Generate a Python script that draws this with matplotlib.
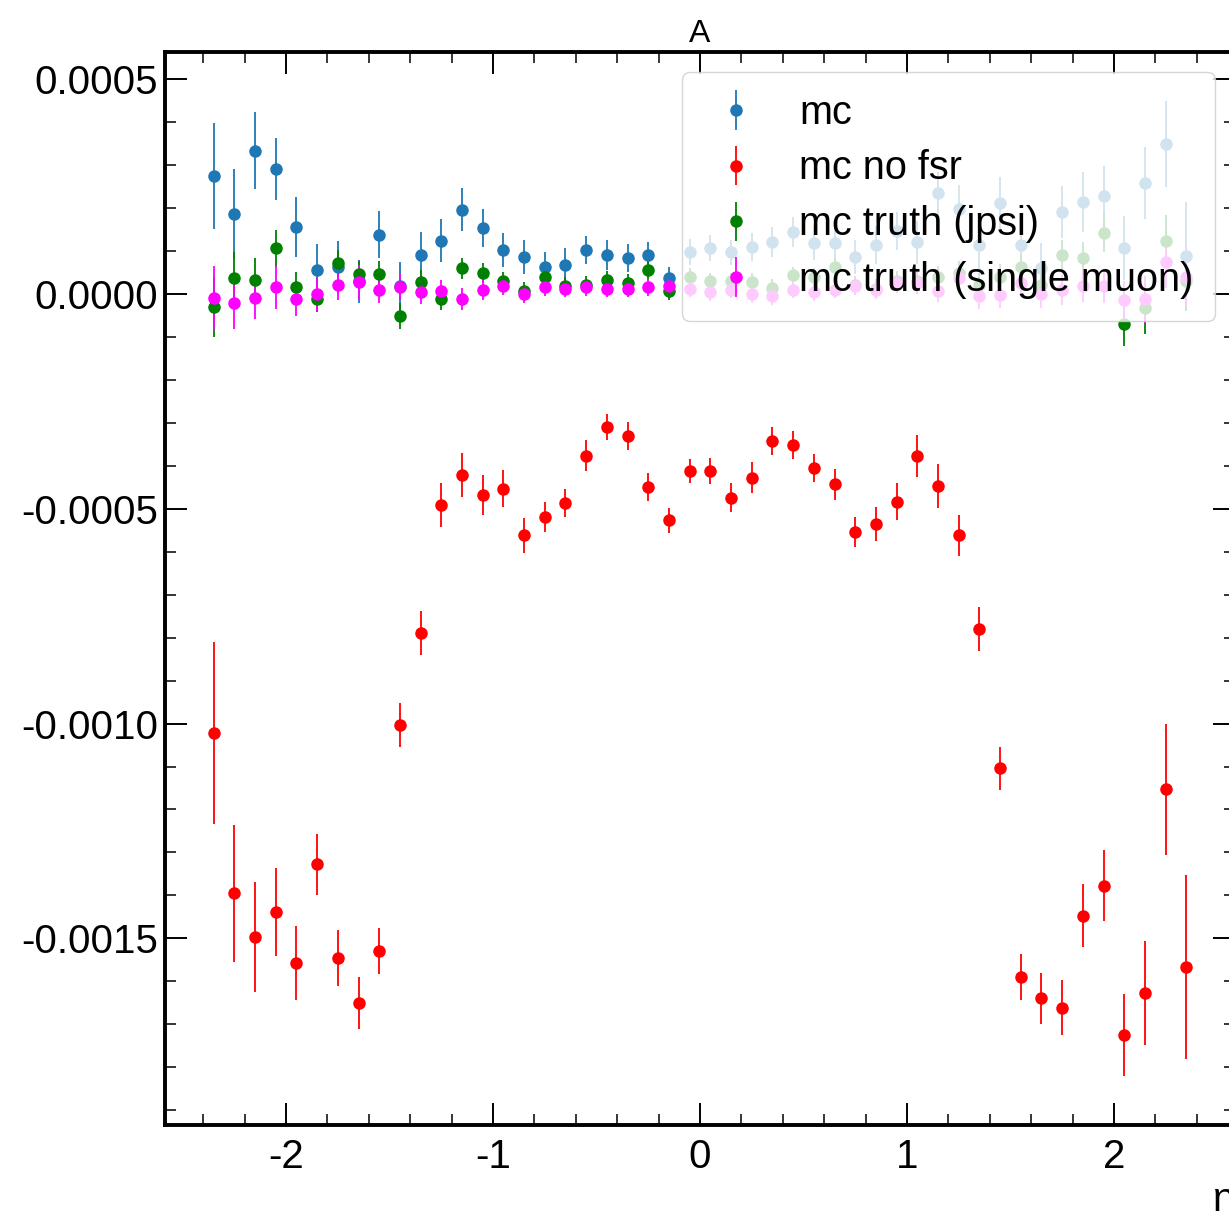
import matplotlib
matplotlib.use("Agg")
import matplotlib.pyplot as plt
from matplotlib.ticker import MultipleLocator

plt.rcParams['font.family'] = ['Liberation Sans', 'DejaVu Sans']
plt.rcParams['axes.unicode_minus'] = False

# bin centres in eta
eta = [-2.35, -2.25, -2.15, -2.05, -1.95, -1.85, -1.75, -1.65, -1.55, -1.45, -1.35, -1.25,
       -1.15, -1.05, -0.95, -0.85, -0.75, -0.65, -0.55, -0.45, -0.35, -0.25, -0.15, -0.05,
       0.05, 0.15, 0.25, 0.35, 0.45, 0.55, 0.65, 0.75, 0.85, 0.95, 1.05, 1.15,
       1.25, 1.35, 1.45, 1.55, 1.65, 1.75, 1.85, 1.95, 2.05, 2.15, 2.25, 2.35]

mc = [0.000275, 0.000187, 0.000334, 0.000292, 0.000156, 0.000056, 0.000063, 0.000030,
      0.000138, 0.000019, 0.000091, 0.000124, 0.000196, 0.000154, 0.000103, 0.000086,
      0.000063, 0.000068, 0.000103, 0.000091, 0.000084, 0.000091, 0.000037, 0.000098,
      0.000108, 0.000097, 0.000110, 0.000122, 0.000145, 0.000120, 0.000120, 0.000086,
      0.000114, 0.000147, 0.000121, 0.000235, 0.000198, 0.000114, 0.000212, 0.000114,
      0.000060, 0.000191, 0.000215, 0.000229, 0.000107, 0.000259, 0.000350, 0.000089]
mc_err = [0.000123, 0.000105, 0.000090, 0.000072, 0.000070, 0.000060, 0.000060, 0.000050,
          0.000055, 0.000056, 0.000054, 0.000050, 0.000050, 0.000045, 0.000040, 0.000040,
          0.000035, 0.000040, 0.000033, 0.000035, 0.000033, 0.000030, 0.000026, 0.000030,
          0.000030, 0.000030, 0.000033, 0.000035, 0.000035, 0.000040, 0.000040, 0.000040,
          0.000045, 0.000045, 0.000050, 0.000050, 0.000055, 0.000055, 0.000060, 0.000060,
          0.000060, 0.000060, 0.000070, 0.000070, 0.000075, 0.000084, 0.000100, 0.000125]

nofsr = [-0.001021, -0.001395, -0.001497, -0.001439, -0.001558, -0.001328, -0.001545, -0.001650,
         -0.001530, -0.001003, -0.000789, -0.000492, -0.000422, -0.000468, -0.000453, -0.000562,
         -0.000519, -0.000486, -0.000376, -0.000309, -0.000331, -0.000449, -0.000527, -0.000412,
         -0.000412, -0.000474, -0.000428, -0.000342, -0.000352, -0.000405, -0.000443, -0.000554,
         -0.000535, -0.000484, -0.000376, -0.000446, -0.000562, -0.000780, -0.001104, -0.001590,
         -0.001640, -0.001661, -0.001447, -0.001377, -0.001725, -0.001628, -0.001153, -0.001567]
nofsr_err = [0.000212, 0.000160, 0.000128, 0.000102, 0.000086, 0.000072, 0.000065, 0.000060,
             0.000054, 0.000051, 0.000051, 0.000051, 0.000051, 0.000046, 0.000043, 0.000040,
             0.000036, 0.000033, 0.000036, 0.000030, 0.000032, 0.000033, 0.000030, 0.000027,
             0.000030, 0.000033, 0.000036, 0.000033, 0.000033, 0.000033, 0.000036, 0.000036,
             0.000040, 0.000043, 0.000049, 0.000051, 0.000048, 0.000051, 0.000050, 0.000053,
             0.000059, 0.000065, 0.000073, 0.000082, 0.000096, 0.000121, 0.000152, 0.000214]

jpsi = [-0.000030, 0.000037, 0.000033, 0.000107, 0.000016, -0.000012, 0.000072, 0.000047,
        0.000047, -0.000051, 0.000028, -0.000012, 0.000060, 0.000049, 0.000030, 0.000007,
        0.000040, 0.000019, 0.000021, 0.000033, 0.000026, 0.000056, 0.000007, 0.000040,
        0.000030, 0.000030, 0.000028, 0.000015, 0.000044, 0.000040, 0.000063, 0.000020,
        0.000012, 0.000030, 0.000030, 0.000040, 0.000050, 0.000020, 0.000040, 0.000063,
        0.000020, 0.000090, 0.000083, 0.000143, -0.000070, -0.000033, 0.000124, 0.000030]
jpsi_err = [0.000070, 0.000060, 0.000050, 0.000043, 0.000036, 0.000030, 0.000030, 0.000030,
            0.000030, 0.000030, 0.000028, 0.000025, 0.000025, 0.000023, 0.000022, 0.000020,
            0.000020, 0.000020, 0.000020, 0.000020, 0.000020, 0.000020, 0.000020, 0.000020,
            0.000020, 0.000020, 0.000020, 0.000020, 0.000020, 0.000020, 0.000020, 0.000022,
            0.000022, 0.000023, 0.000025, 0.000025, 0.000028, 0.000030, 0.000030, 0.000030,
            0.000032, 0.000035, 0.000038, 0.000045, 0.000050, 0.000060, 0.000060, 0.000070]

muon = [-0.000009, -0.000021, -0.000009, 0.000016, -0.000012, 0.000000, 0.000021, 0.000028,
        0.000009, 0.000016, 0.000005, 0.000007, -0.000012, 0.000009, 0.000019, 0.000000,
        0.000016, 0.000012, 0.000016, 0.000012, 0.000012, 0.000016, 0.000019, 0.000012,
        0.000005, 0.000010, 0.000000, -0.000005, 0.000010, 0.000005, 0.000010, 0.000019,
        0.000010, 0.000026, 0.000026, 0.000007, 0.000037, -0.000005, -0.000002, 0.000026,
        0.000000, 0.000010, 0.000019, 0.000019, -0.000014, -0.000012, 0.000075, 0.000040]
muon_err = [0.000075, 0.000060, 0.000050, 0.000050, 0.000040, 0.000040, 0.000035, 0.000040,
            0.000030, 0.000030, 0.000028, 0.000025, 0.000025, 0.000023, 0.000022, 0.000020,
            0.000020, 0.000020, 0.000020, 0.000020, 0.000020, 0.000020, 0.000020, 0.000020,
            0.000020, 0.000020, 0.000020, 0.000020, 0.000020, 0.000020, 0.000020, 0.000022,
            0.000022, 0.000023, 0.000025, 0.000025, 0.000028, 0.000030, 0.000030, 0.000030,
            0.000032, 0.000035, 0.000038, 0.000040, 0.000045, 0.000055, 0.000060, 0.000070]

fig = plt.figure(figsize=(12.29, 12.23), dpi=100)
ax = fig.add_axes([165/1229, 1 - 1125/1223, 1070/1229, 1073/1223])

kw = dict(fmt='o', markersize=8, elinewidth=1.3, capsize=0)
ax.errorbar(eta, mc, yerr=mc_err, color='#1f77b4', label='mc', **kw)
ax.errorbar(eta, nofsr, yerr=nofsr_err, color='red', label='mc no fsr', **kw)
ax.errorbar(eta, jpsi, yerr=jpsi_err, color='green', label='mc truth (jpsi)', **kw)
ax.errorbar(eta, muon, yerr=muon_err, color='magenta', label='mc truth (single muon)', **kw)

ax.xaxis.set_major_locator(MultipleLocator(1))
ax.xaxis.set_minor_locator(MultipleLocator(0.2))
ax.yaxis.set_major_locator(MultipleLocator(0.0005))
ax.yaxis.set_minor_locator(MultipleLocator(0.0001))
ax.tick_params(which='both', direction='in', top=True, right=True, labelsize=29)
ax.tick_params(which='major', length=16, width=1.4)
ax.tick_params(which='minor', length=8, width=1.1)
ax.tick_params(axis='x', which='major', pad=9)
ax.tick_params(axis='y', which='major', pad=5)
for s in ax.spines.values():
    s.set_linewidth(2.8)

ax.set_title('A', fontsize=23, pad=7)
ax.set_xlabel('η', fontsize=29, loc='right')
ax.legend(loc='upper right', fontsize=28.5, handlelength=1.6, labelspacing=0.45,
          borderaxespad=0.5, borderpad=0.55)

fig.savefig('out.png', dpi=100)
